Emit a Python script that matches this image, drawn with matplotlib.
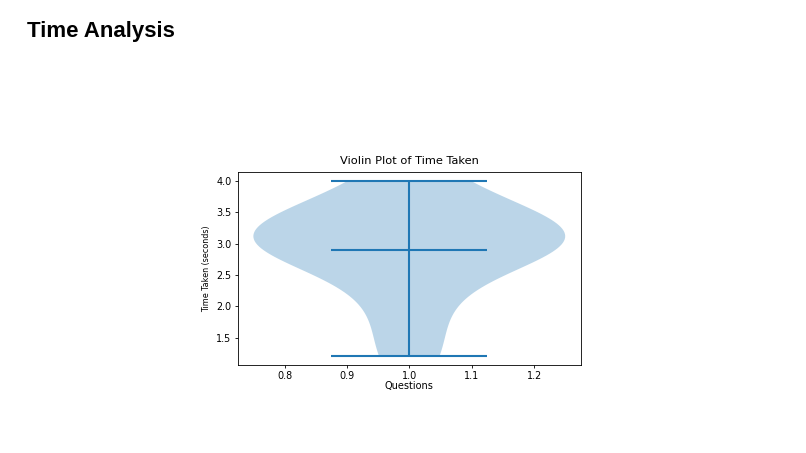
import matplotlib
matplotlib.use("Agg")
import matplotlib.pyplot as plt

# time taken per attempt (seconds)
times = [1.2, 2.0, 2.7, 3.0, 3.0, 3.1, 3.2, 3.2, 3.5, 4.0]
positions = [1]

fig = plt.figure(figsize=(8.06, 4.53), dpi=100)
fig.text(0.0335, 0.93, "Time Analysis", fontsize=16, fontweight="bold",
         family=["Liberation Sans", "DejaVu Sans"], va="center")

ax = fig.add_axes([0.295, 0.194, 0.4256, 0.426])
ax.violinplot([times], positions=positions, showmeans=True)
ax.set_title("Violin Plot of Time Taken", fontsize=8.2)
ax.set_xlabel("Questions", fontsize=7, labelpad=0)
ax.set_ylabel("Time Taken (seconds)", fontsize=5.8, labelpad=4)
ax.tick_params(labelsize=6.9, length=2.5, width=0.6, pad=2)
for s in ax.spines.values():
    s.set_linewidth(0.6)

fig.savefig("out.png", dpi=100)
